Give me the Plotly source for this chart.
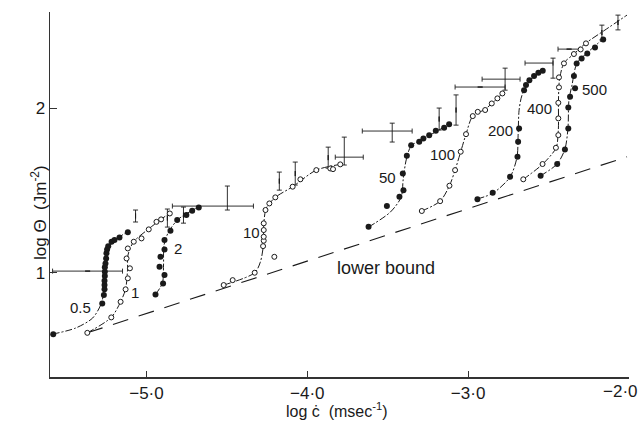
import plotly.graph_objects as go

# ---------------- data ----------------
# curve 0.5 (filled)
c05_x = [-5.58, -5.275, -5.265, -5.261, -5.261, -5.261, -5.259, -5.259, -5.259, -5.255, -5.251, -5.249, -5.245, -5.238, -5.217, -5.199, -5.168, -5.116]
c05_y = [0.625, 0.812, 0.863, 0.898, 0.924, 0.950, 0.979, 1.005, 1.032, 1.056, 1.086, 1.117, 1.141, 1.161, 1.188, 1.198, 1.214, 1.245]
c05_lx = [-5.584, -5.441, -5.335, -5.280, -5.261, -5.258, -5.242, -5.205, -5.118]
c05_ly = [0.625, 0.662, 0.723, 0.814, 0.924, 1.046, 1.137, 1.192, 1.247]

# curve 1 (open)
c1_x = [-5.368, -5.219, -5.161, -5.130, -5.116, -5.103, -5.124, -5.116, -5.079, -5.031, -4.986, -4.938, -4.909, -4.855]
c1_y = [0.633, 0.727, 0.822, 0.898, 0.965, 1.026, 1.086, 1.147, 1.188, 1.208, 1.263, 1.309, 1.324, 1.360]
c1_lx = [-5.368, -5.219, -5.161, -5.130, -5.118, -5.115, -5.081, -4.988, -4.857]
c1_ly = [0.633, 0.727, 0.822, 0.900, 1.015, 1.107, 1.186, 1.265, 1.362]

# curve 2 (filled)
c2_x = [-4.944, -4.897, -4.888, -4.919, -4.913, -4.888, -4.888, -4.851, -4.809, -4.752, -4.716, -4.675]
c2_y = [0.867, 0.934, 0.985, 1.035, 1.096, 1.141, 1.198, 1.255, 1.320, 1.350, 1.376, 1.397]
c2_lx = [-4.944, -4.901, -4.894, -4.891, -4.863, -4.801, -4.677]
c2_ly = [0.867, 0.936, 1.046, 1.167, 1.247, 1.326, 1.399]

# curve 10 (open)
c10_x = [-4.520, -4.464, -4.327, -4.205, -4.275, -4.271, -4.271, -4.271, -4.271, -4.260, -4.236, -4.199, -4.091, -4.043, -3.944, -3.857, -3.840, -3.795]
c10_y = [0.924, 0.954, 0.999, 1.096, 1.161, 1.194, 1.218, 1.259, 1.300, 1.381, 1.421, 1.458, 1.523, 1.568, 1.624, 1.634, 1.630, 1.659]
c10_lx = [-4.520, -4.327, -4.292, -4.273, -4.271, -4.255, -4.199, -4.091, -3.944, -3.795]
c10_ly = [0.924, 0.999, 1.064, 1.167, 1.289, 1.393, 1.458, 1.523, 1.624, 1.659]

# curve 50 (filled)
c50_x = [-3.619, -3.505, -3.427, -3.402, -3.406, -3.381, -3.354, -3.304, -3.278, -3.242, -3.201, -3.149, -3.118]
c50_y = [1.279, 1.405, 1.462, 1.502, 1.604, 1.711, 1.776, 1.797, 1.817, 1.837, 1.864, 1.882, 1.904]
c50_lx = [-3.619, -3.484, -3.416, -3.404, -3.385, -3.354, -3.267, -3.118]
c50_ly = [1.277, 1.368, 1.460, 1.564, 1.686, 1.771, 1.820, 1.904]

# curve 100 (open)
c100_x = [-3.288, -3.174, -3.116, -3.081, -3.046, -3.013, -2.971, -2.940, -2.894, -2.853, -2.818, -2.787]
c100_y = [1.375, 1.435, 1.529, 1.624, 1.736, 1.843, 1.953, 1.979, 1.990, 2.030, 2.061, 2.091]
c100_lx = [-3.288, -3.174, -3.116, -3.081, -3.046, -3.013, -2.971, -2.894, -2.787]
c100_ly = [1.375, 1.435, 1.529, 1.624, 1.736, 1.843, 1.953, 1.995, 2.091]

# curve 200 (filled)
c200_x = [-2.942, -2.847, -2.739, -2.693, -2.689, -2.683, -2.652, -2.640, -2.619, -2.590, -2.563, -2.536]
c200_y = [1.446, 1.486, 1.583, 1.706, 1.797, 1.878, 2.111, 2.142, 2.172, 2.197, 2.217, 2.229]
c200_lx = [-2.944, -2.845, -2.739, -2.696, -2.689, -2.683, -2.665, -2.615, -2.534]
c200_ly = [1.448, 1.484, 1.582, 1.703, 1.837, 1.989, 2.080, 2.172, 2.227]

# curve 400 (open)
c400_x = [-2.657, -2.537, -2.454, -2.439, -2.439, -2.439, -2.435, -2.435, -2.404, -2.342, -2.300, -2.267]
c400_y = [1.568, 1.661, 1.760, 1.837, 1.939, 2.034, 2.128, 2.189, 2.274, 2.331, 2.359, 2.396]
c400_lx = [-2.657, -2.536, -2.453, -2.439, -2.438, -2.432, -2.404, -2.342, -2.267, -2.149, -2.012]
c400_ly = [1.568, 1.661, 1.760, 1.868, 2.051, 2.172, 2.276, 2.331, 2.398, 2.477, 2.568]

# curve 500 (filled)
c500_x = [-2.549, -2.446, -2.398, -2.377, -2.377, -2.366, -2.335, -2.342, -2.325, -2.294, -2.259, -2.211, -2.160]
c500_y = [1.590, 1.661, 1.750, 1.878, 2.006, 2.071, 2.122, 2.197, 2.274, 2.304, 2.335, 2.371, 2.420]
c500_lx = [-2.549, -2.447, -2.398, -2.379, -2.373, -2.354, -2.323, -2.261, -2.162]
c500_ly = [1.590, 1.661, 1.752, 1.880, 2.050, 2.142, 2.276, 2.337, 2.422]

# lower bound
lower_x = [-5.368, -2.012]
lower_y = [0.633, 1.705]

# error crosses: centre, x minus/plus, y minus/plus
err_x  = [-5.366, -5.068, -4.870, -4.770, -4.497, -4.174, -4.075, -3.870, -3.770, -3.472, -3.180, -3.075, -2.925, -2.770, -2.472, -2.372, -2.168, -2.068]
err_y  = [1.009, 1.345, 1.332, 1.350, 1.405, 1.557, 1.603, 1.700, 1.703, 1.862, 1.935, 1.990, 2.130, 2.178, 2.276, 2.361, 2.462, 2.523]
err_xm = [0.218, None, None, None, 0.342, None, None, None, 0.056, 0.186, None, None, 0.156, 0.143, 0.174, 0.069, None, None]
err_xp = [0.217, None, None, None, 0.162, None, None, None, 0.118, 0.124, None, None, 0.155, 0.093, 0.0, 0.068, None, None]
err_ym = [None, 0.037, 0.055, 0.049, 0.024, 0.055, 0.070, 0.064, 0.048, 0.067, 0.067, 0.092, None, 0.067, 0.092, None, 0.045, 0.045]
err_yp = [None, 0.036, 0.055, 0.049, 0.122, 0.055, 0.070, 0.064, 0.122, 0.048, 0.067, 0.092, None, 0.067, 0.030, None, 0.045, 0.045]

# curve labels
lab_text = ["0.5", "1", "2", "10", "50", "100", "200", "400", "500", "lower bound"]
lab_x = [-5.410, -5.073, -4.803, -4.348, -3.503, -3.161, -2.801, -2.556, -2.211, -3.509]
lab_y = [0.790, 0.877, 1.147, 1.247, 1.579, 1.719, 1.865, 1.999, 2.118, 1.027]

x_ticks = [-5, -4, -3, -2]
x_ticktext = ["−5·0", "−4·0", "−3·0", "−2·0"]
y_ticks = [1, 2]
y_ticktext = ["1", "2"]

# ---------------- figure ----------------
FONT = "Liberation Sans, Arial, sans-serif"
INK = "#1a1a1a"
fig = go.Figure()

curves = [
    (c05_x, c05_y, c05_lx, c05_ly, True),
    (c1_x, c1_y, c1_lx, c1_ly, False),
    (c2_x, c2_y, c2_lx, c2_ly, True),
    (c10_x, c10_y, c10_lx, c10_ly, False),
    (c50_x, c50_y, c50_lx, c50_ly, True),
    (c100_x, c100_y, c100_lx, c100_ly, False),
    (c200_x, c200_y, c200_lx, c200_ly, True),
    (c400_x, c400_y, c400_lx, c400_ly, False),
    (c500_x, c500_y, c500_lx, c500_ly, True),
]

fig.add_trace(go.Scatter(x=lower_x, y=lower_y, mode="lines",
                         line=dict(color=INK, width=1.1, dash="16px,11px"),
                         hoverinfo="skip", showlegend=False))

for mx, my, lx, ly, filled in curves:
    fig.add_trace(go.Scatter(x=lx, y=ly, mode="lines",
                             line=dict(color=INK, width=1, dash="7px,2px,2px,2px", shape="spline", smoothing=0.8),
                             hoverinfo="skip", showlegend=False))

fig.add_trace(go.Scatter(
    x=err_x, y=err_y, mode="markers", marker=dict(size=1, color="rgba(0,0,0,0)"),
    error_x=dict(type="data", symmetric=False, array=err_xp, arrayminus=err_xm,
                 color=INK, thickness=0.9, width=2.5),
    error_y=dict(type="data", symmetric=False, array=err_yp, arrayminus=err_ym,
                 color=INK, thickness=0.9, width=2.5),
    hoverinfo="skip", showlegend=False))

for mx, my, lx, ly, filled in curves:
    if filled:
        mk = dict(size=6, color=INK, line=dict(width=0))
    else:
        mk = dict(size=5, color="white", line=dict(color=INK, width=1))
    fig.add_trace(go.Scatter(x=mx, y=my, mode="markers", marker=mk,
                             cliponaxis=False, showlegend=False))

for t, x, y in zip(lab_text, lab_x, lab_y):
    fig.add_annotation(x=x, y=y, text=t, showarrow=False,
                       font=dict(family=FONT, size=18 if t == "lower bound" else 15, color=INK))

# last x tick label sits flush against the right edge in the original
fig.add_annotation(x=x_ticks[-1], xref="x", yref="paper", y=-0.039, xanchor="right", yanchor="middle",
                   xshift=11, text=x_ticktext[-1], showarrow=False,
                   font=dict(family=FONT, size=17, color=INK))
x_ticktext_axis = x_ticktext[:-1] + [""]

fig.add_annotation(xref="paper", yref="paper", x=-0.0415, y=0.452, text="log Θ  (Jm<sup>-2</sup>)",
                   textangle=-90, showarrow=False, font=dict(family=FONT, size=17, color=INK))
fig.add_annotation(xref="paper", yref="paper", x=0.496, y=-0.090, yanchor="middle",
                   text="log ċ  (msec<sup>-1</sup>)", showarrow=False,
                   font=dict(family=FONT, size=16, color=INK))

fig.update_layout(
    width=642, height=421,
    margin=dict(l=50, r=13, t=12, b=44, autoexpand=False),
    paper_bgcolor="white", plot_bgcolor="white",
    font=dict(family=FONT, size=17, color=INK),
    xaxis=dict(range=[-5.6, -1.9995], tickvals=x_ticks, ticktext=x_ticktext_axis,
               showline=True, linecolor="#333", linewidth=1.5, ticks="inside", ticklen=6,
               tickcolor="#333", showgrid=False, zeroline=False, automargin=False),
    yaxis=dict(range=[0.364, 2.587], tickvals=y_ticks, ticktext=y_ticktext,
               showline=True, linecolor="#333", linewidth=1.5, ticks="inside", ticklen=7,
               tickcolor="#333", showgrid=False, zeroline=False, automargin=False),
)

fig.write_html("out.html", config={"displayModeBar": False, "staticPlot": True},
               post_script="document.body.style.margin='0px';document.body.style.overflow='hidden';")
